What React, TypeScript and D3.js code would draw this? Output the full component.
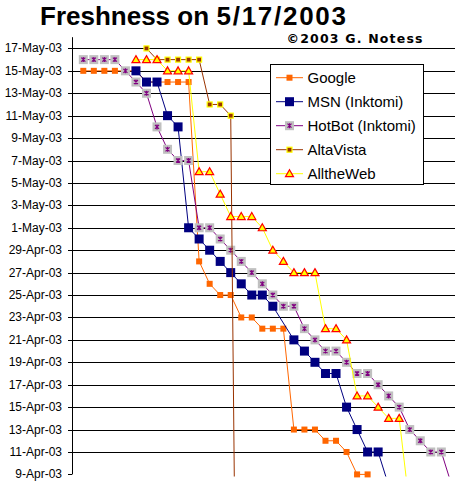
import React from "react";
import * as d3 from "d3";

const W = 455;
const H = 488;

const seriesNames = ["Google", "MSN (Inktomi)", "HotBot (Inktomi)", "AltaVista", "AlltheWeb"];
const seriesColors = ["#FF6600", "#000080", "#800080", "#993300", "#FFFF00"];

// values indexed by sample position (null = no point)
const google: (string | null)[] = [
  "2003-05-15", "2003-05-15", "2003-05-15", "2003-05-15", "2003-05-15", "2003-05-15",
  "2003-05-14", "2003-05-14", "2003-05-14", "2003-05-14", "2003-05-14",
  "2003-04-28", "2003-04-26", "2003-04-25", "2003-04-25", "2003-04-23", "2003-04-23",
  "2003-04-22", "2003-04-22", "2003-04-22", "2003-04-13", "2003-04-13", "2003-04-13",
  "2003-04-12", "2003-04-12", "2003-04-11", "2003-04-09", "2003-04-09",
];
const msn: (string | null)[] = [
  null, null, null, null, null,
  "2003-05-15", "2003-05-14", "2003-05-14", "2003-05-11", "2003-05-10",
  "2003-05-01", "2003-04-30", "2003-04-29", "2003-04-28", "2003-04-27", "2003-04-26",
  "2003-04-25", "2003-04-25", "2003-04-24", null, "2003-04-21", "2003-04-20",
  "2003-04-19", "2003-04-18", "2003-04-18", "2003-04-15", "2003-04-13", "2003-04-11",
  "2003-04-11", "2003-04-08",
];
const hotbot: (string | null)[] = [
  "2003-05-16", "2003-05-16", "2003-05-16", "2003-05-16", "2003-05-15", "2003-05-14",
  "2003-05-13", "2003-05-10", "2003-05-08", "2003-05-07", "2003-05-07", "2003-05-01",
  "2003-05-01", "2003-04-30", "2003-04-29", "2003-04-28", "2003-04-27", "2003-04-26",
  "2003-04-25", "2003-04-24", "2003-04-24", "2003-04-22", "2003-04-21", "2003-04-20",
  "2003-04-20", "2003-04-19", "2003-04-18", "2003-04-18", "2003-04-17", "2003-04-16",
  "2003-04-15", "2003-04-13", "2003-04-12", "2003-04-11", "2003-04-11", "2003-04-08",
];
const altavista: (string | null)[] = [
  null, null, null, null, null, null,
  "2003-05-17", "2003-05-16", "2003-05-16", "2003-05-16", "2003-05-16", "2003-05-16",
  "2003-05-12", "2003-05-12", "2003-05-11", "2003-02-05",
];
const alltheweb: (string | null)[] = [
  null, null, null, null, null,
  "2003-05-16", "2003-05-16", "2003-05-16", "2003-05-15", "2003-05-15", "2003-05-15",
  "2003-05-06", "2003-05-06", "2003-05-04", "2003-05-02", "2003-05-02", "2003-05-02",
  "2003-05-01", "2003-04-29", "2003-04-28", "2003-04-27", "2003-04-27", "2003-04-27",
  "2003-04-22", "2003-04-22", "2003-04-21", "2003-04-16", "2003-04-16", "2003-04-15",
  "2003-04-14", "2003-04-14", "2003-04-06",
];

const axisMin = "2003-04-09";
const axisMax = "2003-05-18";
const tickStepDays = 2;

const titleLead = "Freshness on ";
const titleDate = "5/17/2003";
const copyright = "\u00A92003 G. Notess";

const allSeries = [google, msn, hotbot, altavista, alltheweb];

const parse = d3.timeParse("%Y-%m-%d");
const fmt = d3.timeFormat("%-d-%b-%y");
const FONT = "'Liberation Sans', Arial, sans-serif";

const plotLeft = 72;
const plotTop = 37.2;
const plotBottom = 474.4;

function Marker({ k, x, y }: { k: number; x: number; y: number }) {
  if (k === 0) {
    return <rect x={x - 3} y={y - 3} width={6} height={6} fill="#FF6600" />;
  }
  if (k === 1) {
    return <rect x={x - 4.5} y={y - 4.5} width={9} height={9} fill="#000080" />;
  }
  if (k === 2) {
    return (
      <g>
        <rect x={x - 4.5} y={y - 4.5} width={9} height={9} fill="#C0C0C0" />
        <path
          d={`M${x - 2},${y - 2}L${x + 2},${y + 2}M${x + 2},${y - 2}L${x - 2},${y + 2}M${x},${y - 2.5}L${x},${y + 2.5}`}
          stroke="#800080"
          strokeWidth={1.2}
        />
      </g>
    );
  }
  if (k === 3) {
    return <rect x={x - 2.5} y={y - 2.5} width={5} height={5} fill="#993300" stroke="#FFFF00" strokeWidth={1.2} />;
  }
  return (
    <path
      d={`M${x},${y - 4}L${x + 4},${y + 3}L${x - 4},${y + 3}Z`}
      fill="#FFFF00"
      stroke="#FF0000"
      strokeWidth={1.2}
    />
  );
}

export default function App() {
  const x = d3.scaleLinear().domain([0, 35]).range([83.3, 451.85]);
  const y = d3
    .scaleTime()
    .domain([parse(axisMin)!, parse(axisMax)!])
    .range([plotBottom, plotTop]);

  const ticks = d3.timeDay.range(parse(axisMin)!, parse(axisMax)!, tickStepDays);

  const line = d3
    .line<{ i: number; d: Date }>()
    .x((p) => x(p.i))
    .y((p) => y(p.d));

  const pts = allSeries.map((s) =>
    s
      .map((v, i) => (v ? { i, d: parse(v)! } : null))
      .filter((p): p is { i: number; d: Date } => p !== null)
  );

  const minD = parse(axisMin)!.getTime();
  const maxD = parse(axisMax)!.getTime();

  const legX = 270.5;
  const legY = 64.5;
  const legW = 153;
  const legH = 120;
  const legRow = 24;

  return (
    <svg
      width={W}
      height={H}
      style={{ position: "absolute", left: 0, top: 0, background: "#fff" }}
      fontFamily={FONT}
    >
      <defs>
        <clipPath id="plotClip">
          <rect x={plotLeft} y={plotTop} width={W - plotLeft} height={plotBottom - plotTop + 2} />
        </clipPath>
      </defs>
      <rect x={0} y={0} width={W} height={H} fill="#fff" />

      <text x={40} y={24.5} fontSize={26} fontWeight="bold">
        {titleLead}
      </text>
      <text x={216.5} y={24.5} fontSize={26} fontWeight="bold" textLength={129.5} lengthAdjust="spacing">
        {titleDate}
      </text>
      <text
        x={286.5}
        y={43}
        fontSize={12.5}
        fontWeight="bold"
        fontFamily="'DejaVu Sans', Verdana, sans-serif"
        textLength={136}
        lengthAdjust="spacing"
      >
        {copyright}
      </text>

      {ticks.map((t, i) => (
        <g key={i}>
          {i > 0 && (
            <line
              x1={plotLeft}
              x2={W}
              y1={Math.round(y(t)) + 0.5}
              y2={Math.round(y(t)) + 0.5}
              stroke="#000"
              strokeWidth={1}
            />
          )}
          <line
            x1={plotLeft - 4}
            x2={plotLeft}
            y1={Math.round(y(t)) + 0.5}
            y2={Math.round(y(t)) + 0.5}
            stroke="#000"
          />
          <text x={62} y={y(t)} fontSize={12} textAnchor="end" dominantBaseline="central">
            {fmt(t)}
          </text>
        </g>
      ))}
      <line x1={plotLeft + 0.5} x2={plotLeft + 0.5} y1={plotTop} y2={plotBottom} stroke="#000" />

      {pts.map((p, k) => (
        <g key={k}>
          <path d={line(p) || ""} fill="none" stroke={seriesColors[k]} strokeWidth={1} clipPath="url(#plotClip)" />
          {p
            .filter((q) => q.d.getTime() >= minD && q.d.getTime() <= maxD)
            .map((q, j) => (
              <Marker key={j} k={k} x={x(q.i)} y={y(q.d)} />
            ))}
        </g>
      ))}

      <rect x={legX} y={legY} width={legW} height={legH} fill="#fff" stroke="#000" strokeWidth={1} />
      {seriesNames.map((n, k) => {
        const cy = legY + 13.2 + k * legRow;
        return (
          <g key={k}>
            <line x1={276} x2={303} y1={cy} y2={cy} stroke={seriesColors[k]} strokeWidth={1} />
            <Marker k={k} x={289.5} y={cy} />
            <text x={307.5} y={cy} fontSize={15} dominantBaseline="central">
              {n}
            </text>
          </g>
        );
      })}
    </svg>
  );
}
